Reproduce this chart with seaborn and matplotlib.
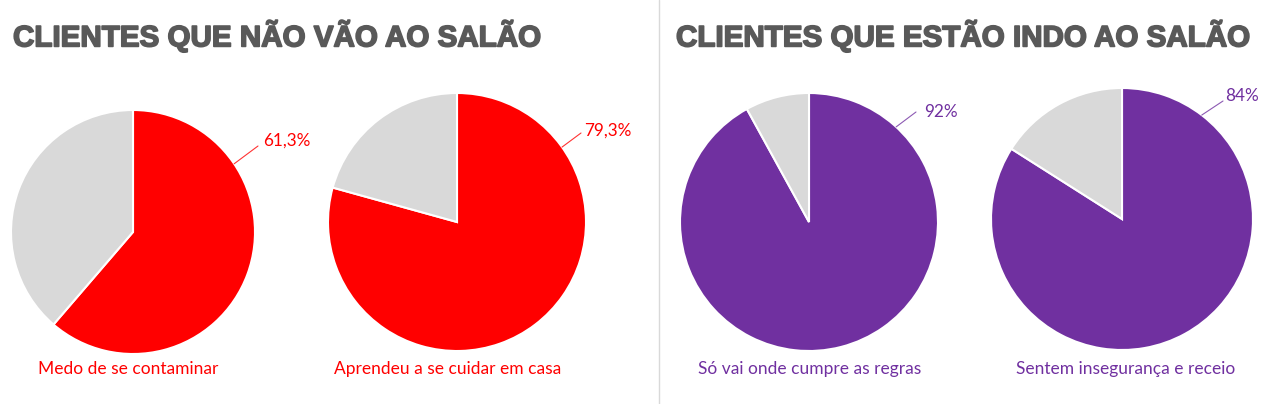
import numpy as np
import matplotlib
matplotlib.use("Agg")
import matplotlib.pyplot as plt
import matplotlib.patheffects as pe
import seaborn as sns

sns.set_theme(style="white")
plt.rcParams["font.family"] = ["Lato", "DejaVu Sans"]

# ── Data ───────────────────────────────────────────────────────────────────
titles       = ["CLIENTES QUE NÃO VÃO AO SALÃO", "CLIENTES QUE ESTÃO INDO AO SALÃO"]
categories   = ["Medo de se contaminar", "Aprendeu a se cuidar em casa",
                "Só vai onde cumpre as regras", "Sentem insegurança e receio"]
shares       = [61.3, 79.3, 92, 84]
share_labels = ["61,3%", "79,3%", "92%", "84%"]
groups       = [0, 0, 1, 1]

# ── Style / layout (pixels, top-left origin) ───────────────────────────────
W, H = 1280, 404
GROUP_COLORS = ["#FF0000", "#7030A0"]
REST_COLOR   = "#D9D9D9"
TITLE_COLOR  = "#595959"
centers   = [(133, 232), (457, 222), (809, 222), (1122, 219)]
radii     = [122, 129, 129, 131]
lead_ang  = [56, 54.5, 42.5, 37.5]          # degrees clockwise from 12 o'clock
lead_end  = [(258, 146), (581, 133), (916, 112), (1223, 101)]
lab_pos   = [(263, 141), (584, 131), (924, 112), (1225, 96)]
cat_x     = [128, 448, 810, 1126]
title_x   = [13, 676]

fig = plt.figure(figsize=(W / 100, H / 100), dpi=100)
ax = fig.add_axes([0, 0, 1, 1])

for i, (val, grp) in enumerate(zip(shares, groups)):
    cx, cy = centers[i]
    col = GROUP_COLORS[grp]
    ax.pie([val, 100 - val], colors=[col, REST_COLOR], startangle=90,
           counterclock=False, center=(cx, H - cy), radius=radii[i],
           wedgeprops=dict(edgecolor="white", linewidth=1.5))
    a = np.deg2rad(lead_ang[i])
    x0 = cx + radii[i] * np.sin(a)
    y0 = (H - cy) + radii[i] * np.cos(a)
    ex, ey = lead_end[i]
    ax.plot([x0, ex], [y0, H - ey], color=col, lw=0.8, alpha=0.8)
    lx, ly = lab_pos[i]
    ax.text(lx, H - ly, share_labels[i], color=col, fontsize=12.3,
            ha="left", va="center")
    ax.text(cat_x[i], H - 369, categories[i], color=col, fontsize=12.5,
            ha="center", va="center")

for t, x in zip(titles, title_x):
    ax.text(x, H - 36, t, color=TITLE_COLOR, fontsize=21.3, fontweight="bold",
            family="Liberation Sans", ha="left", va="center",
            path_effects=[pe.withStroke(linewidth=1.2, foreground=TITLE_COLOR)])

ax.plot([659, 659], [0, H], color="#D9D9D9", lw=1)

ax.set_xlim(0, W)
ax.set_ylim(0, H)
ax.set_aspect("equal")
ax.axis("off")

fig.savefig("out.png", dpi=100, facecolor="white")
